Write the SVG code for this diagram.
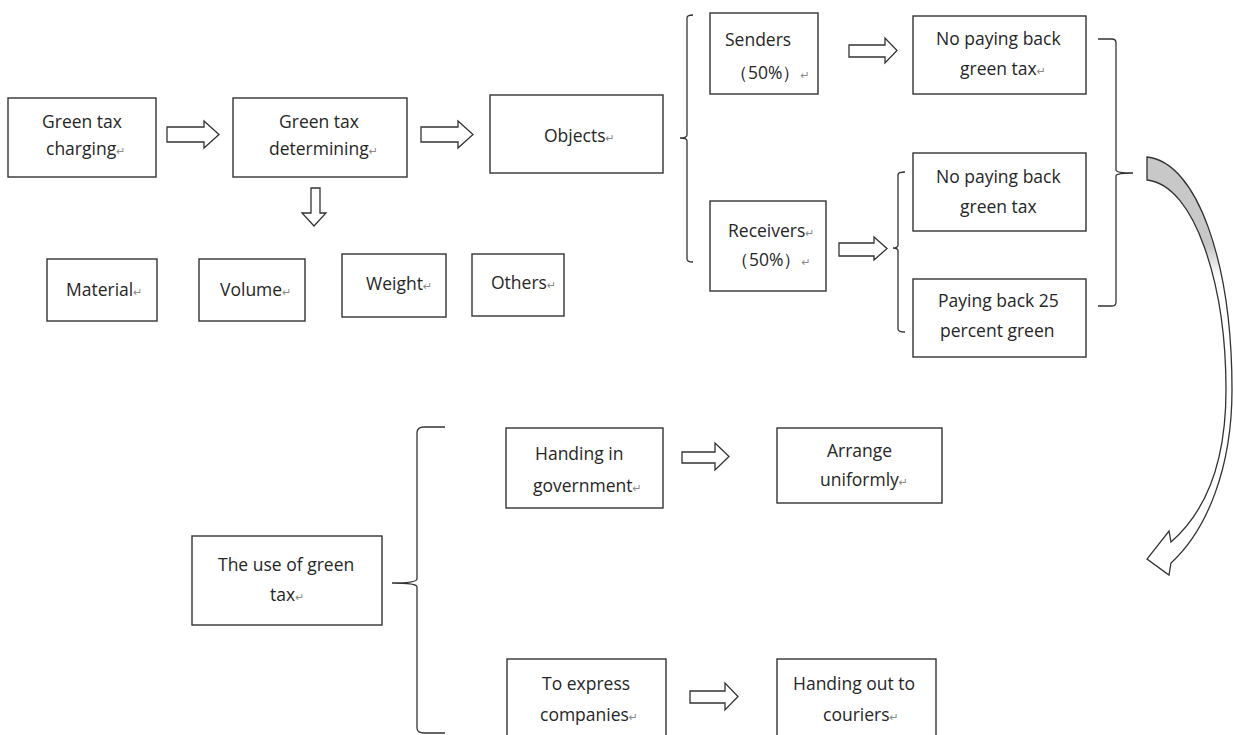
<svg xmlns="http://www.w3.org/2000/svg" width="1233" height="735" viewBox="0 0 1233 735">
<defs>
<style>
.box{fill:#fff;stroke:#333;stroke-width:1.4}
.arr{fill:#fff;stroke:#333;stroke-width:1.3;stroke-linejoin:miter}
.br{fill:none;stroke:#333;stroke-width:1.3}
text{font-family:"Open Sans","Liberation Sans",sans-serif;font-size:17.5px;fill:#262626}
.pm{font-family:"DejaVu Sans",sans-serif;font-size:11px;fill:#8a8a8a}
</style>
<linearGradient id="cg" gradientUnits="userSpaceOnUse" x1="0" y1="157" x2="0" y2="560">
<stop offset="0" stop-color="#c8c8c8"/>
<stop offset="0.22" stop-color="#c8c8c8"/>
<stop offset="0.3" stop-color="#ffffff"/>
<stop offset="1" stop-color="#ffffff"/>
</linearGradient>
</defs>
<rect width="1233" height="735" fill="#fff"/>

<g id="connectors">
<polygon class="arr" points="167,127 204,127 204,121 219,134.5 204,148 204,142 167,142"/>
<polygon class="arr" points="421,127 458,127 458,121 473,134.5 458,148 458,142 421,142"/>
<polygon class="arr" points="311,188 320,188 320,213 326,213 314,226 302,213 311,213"/>
<polygon class="arr" points="849,45 885,45 885,38 897,50.5 885,63 885,57 849,57"/>
<polygon class="arr" points="839,243 874,243 874,237 887,248.5 874,260 874,256 839,256"/>
<polygon class="arr" points="682,452 715,452 715,443 729,456.5 715,470 715,463 682,463"/>
<polygon class="arr" points="690,691 725,691 725,683 738,696.5 725,710 725,703 690,703"/>
<path class="br" d="M693,15 Q687,15 687,18 L687,135 Q687,138 680,138 Q687,138 687,141 L687,259 Q687,262 693,262"/>
<path class="br" d="M905,172 Q898,172 898,175 L898,245 Q898,248 893,248 Q898,248 898,251 L898,329 Q898,332 905,332"/>
<path class="br" d="M1098,39 L1112,39 Q1116,39 1116,43 L1116,170 Q1116,173 1133,173 Q1116,173 1116,176 L1116,302 Q1116,306 1112,306 L1098,306"/>
<path class="br" d="M445,427 L424,427 Q417,427 417,433 L417,579 Q417,583 392,583 Q417,583 417,587 L417,728 Q417,733 424,733 L445,733"/>
<path fill="url(#cg)" stroke="#333" stroke-width="1.3" stroke-linejoin="miter" d="M1147,157 C1197,162 1232,262 1232,390 C1232,468 1207,530 1171,563 L1169,575 L1147,559 L1169,531 L1171,542 C1202,515 1226,468 1226,390 C1226,285 1195,185 1147,180 Z"/>
</g>

<g id="n-charging"><rect class="box" x="8" y="98" width="148" height="79"/>
<text x="42" y="128">Green tax</text><text x="46" y="155">charging<tspan class="pm">↵</tspan></text></g>

<g id="n-determining"><rect class="box" x="233" y="98" width="174" height="79"/>
<text x="279" y="128">Green tax</text><text x="269" y="155">determining<tspan class="pm">↵</tspan></text></g>

<g id="n-objects"><rect class="box" x="490" y="95" width="173" height="78"/>
<text x="544" y="142">Objects<tspan class="pm">↵</tspan></text></g>

<g id="n-material"><rect class="box" x="47" y="259" width="110" height="62"/>
<text x="66" y="296">Material<tspan class="pm">↵</tspan></text></g>
<g id="n-volume"><rect class="box" x="199" y="259" width="106" height="62"/>
<text x="220" y="296">Volume<tspan class="pm">↵</tspan></text></g>
<g id="n-weight"><rect class="box" x="342" y="254" width="104" height="63"/>
<text x="366" y="290">Weight<tspan class="pm">↵</tspan></text></g>
<g id="n-others"><rect class="box" x="472" y="254" width="92" height="62"/>
<text x="491" y="289">Others<tspan class="pm">↵</tspan></text></g>

<g id="n-senders"><rect class="box" x="710" y="13" width="108" height="81"/>
<text x="725" y="46">Senders</text><text x="730" y="79">（50%）<tspan class="pm">↵</tspan></text></g>

<g id="n-receivers"><rect class="box" x="710" y="201" width="116" height="90"/>
<text x="728" y="237">Receivers<tspan class="pm">↵</tspan></text><text x="731" y="266">（50%）<tspan class="pm">↵</tspan></text></g>

<g id="n-nopay1"><rect class="box" x="913" y="16" width="173" height="78"/>
<text x="936" y="45">No paying back</text><text x="960" y="75">green tax<tspan class="pm">↵</tspan></text></g>

<g id="n-nopay2"><rect class="box" x="913" y="153" width="173" height="78"/>
<text x="936" y="183">No paying back</text><text x="960" y="213">green tax</text></g>

<g id="n-pay25"><rect class="box" x="913" y="279" width="173" height="78"/>
<text x="938" y="307">Paying back 25</text><text x="940" y="337">percent green</text></g>

<g id="n-use"><rect class="box" x="192" y="536" width="190" height="89"/>
<text x="218" y="571">The use of green</text><text x="270" y="601">tax<tspan class="pm">↵</tspan></text></g>

<g id="n-handin"><rect class="box" x="506" y="428" width="157" height="80"/>
<text x="535" y="460">Handing in</text><text x="533" y="492">government<tspan class="pm">↵</tspan></text></g>

<g id="n-arrange"><rect class="box" x="777" y="428" width="165" height="75"/>
<text x="827" y="457">Arrange</text><text x="820" y="486">uniformly<tspan class="pm">↵</tspan></text></g>

<g id="n-express"><rect class="box" x="507" y="659" width="159" height="85"/>
<text x="542" y="690">To express</text><text x="540" y="721">companies<tspan class="pm">↵</tspan></text></g>

<g id="n-couriers"><rect class="box" x="777" y="659" width="159" height="85"/>
<text x="793" y="690">Handing out to</text><text x="823" y="721">couriers<tspan class="pm">↵</tspan></text></g>
</svg>
